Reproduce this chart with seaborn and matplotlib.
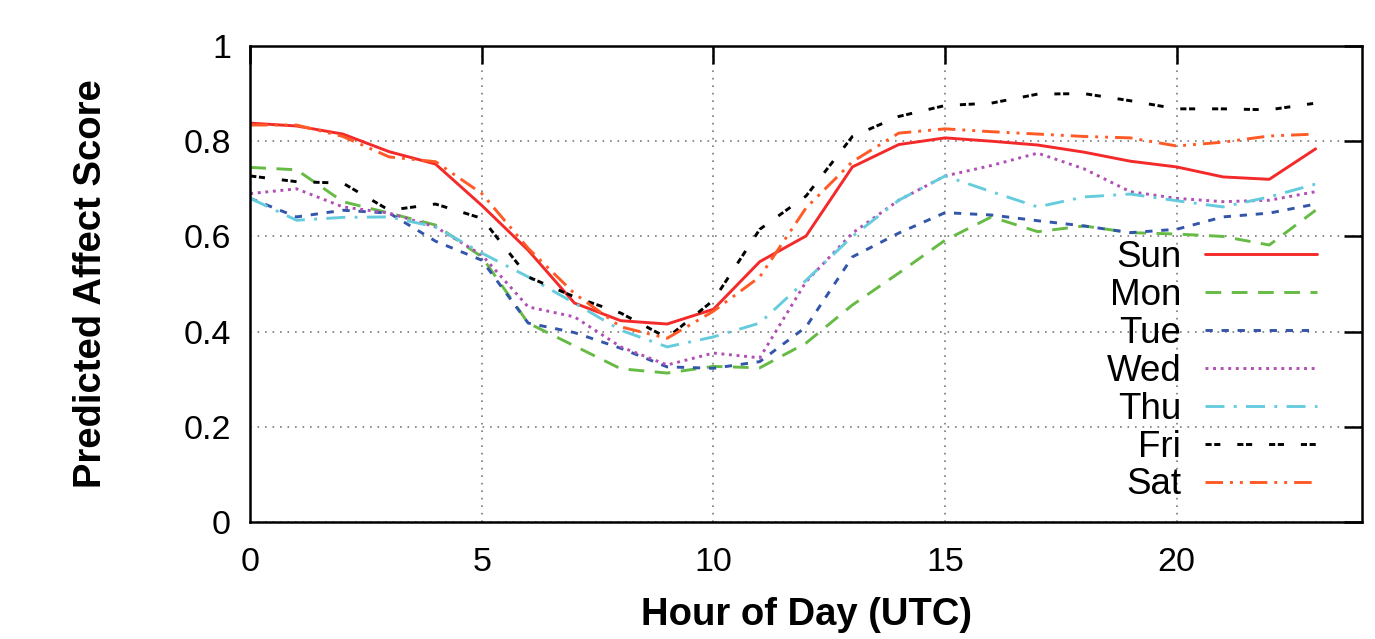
import pandas as pd
import matplotlib
matplotlib.use('Agg')
import matplotlib.pyplot as plt
import seaborn as sns

sns.set_style("white")
plt.rcParams['font.family'] = ['Liberation Sans', 'DejaVu Sans']
plt.rcParams['text.color'] = 'black'
plt.rcParams['axes.labelcolor'] = 'black'

hours = list(range(24))
days = ['Sun', 'Mon', 'Tue', 'Wed', 'Thu', 'Fri', 'Sat']

sun = [0.838, 0.832, 0.815, 0.778, 0.752, 0.665, 0.571, 0.460, 0.423, 0.416, 0.447, 0.547,
       0.601, 0.746, 0.793, 0.807, 0.800, 0.792, 0.777, 0.758, 0.746, 0.725, 0.720, 0.784]
mon = [0.745, 0.740, 0.673, 0.649, 0.624, 0.557, 0.418, 0.370, 0.322, 0.313, 0.327, 0.324,
       0.376, 0.456, 0.523, 0.592, 0.641, 0.610, 0.622, 0.608, 0.605, 0.600, 0.582, 0.655]
tue = [0.680, 0.641, 0.655, 0.649, 0.590, 0.550, 0.418, 0.398, 0.365, 0.326, 0.323, 0.337,
       0.410, 0.557, 0.607, 0.650, 0.645, 0.633, 0.622, 0.608, 0.615, 0.641, 0.649, 0.668]
wed = [0.690, 0.700, 0.662, 0.649, 0.620, 0.561, 0.452, 0.431, 0.368, 0.330, 0.355, 0.345,
       0.505, 0.607, 0.676, 0.727, 0.749, 0.775, 0.742, 0.694, 0.680, 0.673, 0.676, 0.694]
thu = [0.680, 0.634, 0.640, 0.641, 0.620, 0.565, 0.515, 0.460, 0.403, 0.368, 0.389, 0.418,
       0.508, 0.600, 0.676, 0.727, 0.694, 0.662, 0.683, 0.689, 0.675, 0.662, 0.683, 0.710]
fri = [0.727, 0.715, 0.712, 0.655, 0.668, 0.638, 0.515, 0.473, 0.439, 0.387, 0.466, 0.615,
       0.685, 0.810, 0.852, 0.875, 0.880, 0.899, 0.900, 0.885, 0.868, 0.868, 0.866, 0.880]
sat = [0.834, 0.834, 0.810, 0.767, 0.757, 0.690, 0.575, 0.480, 0.410, 0.386, 0.443, 0.515,
       0.660, 0.757, 0.817, 0.826, 0.820, 0.815, 0.810, 0.807, 0.790, 0.798, 0.811, 0.815]

series = dict(zip(days, [sun, mon, tue, wed, thu, fri, sat]))

colors = {'Sun': '#f42a2a', 'Mon': '#66bb44', 'Tue': '#3355aa', 'Wed': '#b04fb4',
          'Thu': '#66ccdd', 'Fri': '#000000', 'Sat': '#ff5a26'}
dashes = {'Sun': '', 'Mon': (5.4, 3.6), 'Tue': (2.5, 3.0), 'Wed': (1.0, 1.6),
          'Thu': (6.5, 3.2, 1.0, 3.2), 'Fri': (2.1, 0.9, 2.1, 5.8),
          'Sat': (6.0, 2.4, 1.0, 2.4, 1.0, 2.4)}

df = pd.DataFrame([(d, h, v) for d in days for h, v in zip(hours, series[d])],
                  columns=['day', 'hour', 'score'])

fig = plt.figure(figsize=(13.75, 6.39), dpi=100)
ax = fig.add_axes([0.182, 0.183, 0.8085, 0.745])

sns.lineplot(data=df, x='hour', y='score', hue='day', style='day', hue_order=days,
             style_order=days, palette=colors, dashes=dashes, linewidth=2.1, ax=ax)

ax.set_xlim(0, 24)
ax.set_ylim(0, 1)
ax.set_xticks([0, 5, 10, 15, 20])
ax.set_yticks([0, 0.2, 0.4, 0.6, 0.8, 1])
ax.set_yticklabels(['0', '0.2', '0.4', '0.6', '0.8', '1'])
ax.grid(True, color='#7a7a7a', linestyle=(0, (1, 3.5)), linewidth=1.2)
for s in ax.spines.values():
    s.set_linewidth(1.8)
    s.set_color('black')
ax.tick_params(direction='in', length=13, width=1.8, top=True, right=True,
               labelsize=24.5, colors='black')
ax.tick_params(axis='y', pad=14)
ax.tick_params(axis='x', pad=18)
ax.set_xlabel('Hour of Day (UTC)', fontsize=27.5, fontweight='bold')
ax.set_ylabel('Predicted Affect Score', fontsize=27.5, fontweight='bold')
ax.xaxis.set_label_coords(0.5, -0.158)
ax.yaxis.set_label_coords(-0.127, 0.5)

handles, labels = ax.get_legend_handles_labels()
ax.legend(handles, labels, markerfirst=False, frameon=False, fontsize=26.5,
          loc='center right', bbox_to_anchor=(0.96, 0.317), borderaxespad=0,
          borderpad=0, handlelength=3.05, handletextpad=0.65, labelspacing=0.08)

fig.savefig('out.png', dpi=100)
